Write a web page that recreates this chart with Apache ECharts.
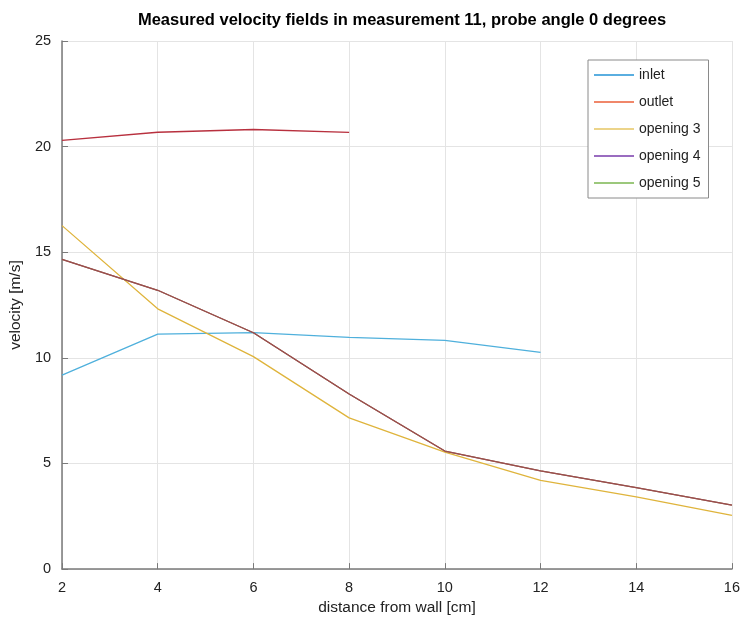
<!DOCTYPE html>
<html>
<head>
<meta charset="utf-8">
<script src="https://cdn.jsdelivr.net/npm/echarts@6/dist/echarts.min.js"></script>
<style>html,body{margin:0;padding:0;background:#fff}#c{width:743px;height:621px}</style>
</head>
<body>
<div id="c"></div>
<script>
const xInlet = [2, 4, 6, 8, 10, 12];
const inlet = [9.18, 11.12, 11.19, 10.97, 10.83, 10.26];
const xOutlet = [2, 4, 6, 8];
const outlet = [20.3, 20.68, 20.81, 20.67];
const xOpening = [2, 4, 6, 8, 10, 12, 14, 16];
const opening3 = [16.26, 12.32, 10.06, 7.16, 5.54, 4.2, 3.42, 2.54];
const opening4 = [14.66, 13.2, 11.19, 8.29, 5.59, 4.65, 3.86, 3.03];
const opening5 = [14.66, 13.2, 11.19, 8.29, 5.59, 4.65, 3.86, 3.03];
const xTicks = [2, 4, 6, 8, 10, 12, 14, 16];
const yTicks = [0, 5, 10, 15, 20, 25];

const names = ['inlet', 'outlet', 'opening 3', 'opening 4', 'opening 5'];
const legendColors = ['#5aaee0', '#f0876a', '#ecd48a', '#9a6cc0', '#9cc87c'];
const plotColors = ['#4fb0dc', '#b8303e', '#dfb43c', '#9c4c4e', '#8f6a4a'];

function pairs(xs, ys) { return xs.map((x, i) => [x, ys[i]]); }

const chart = echarts.init(document.getElementById('c'), null, {renderer: 'canvas'});
const font = 'Liberation Sans, Arial, sans-serif';
chart.setOption({
  animation: false,
  backgroundColor: '#ffffff',
  title: {
    text: 'Measured velocity fields in measurement 11, probe angle 0 degrees',
    left: 397, textAlign: 'center', top: 7,
    textStyle: {fontFamily: font, fontSize: 16.5, fontWeight: 'bold', color: '#000'}
  },
  grid: {left: 60, right: 10, top: 41, bottom: 47},
  legend: {
    orient: 'vertical', left: 588, top: 60,
    padding: [8, 8, 8, 6],
    itemWidth: 40, itemHeight: 2, itemGap: 13,
    icon: 'rect',
    backgroundColor: '#fff', borderColor: '#8a8a8a', borderWidth: 1,
    textStyle: {fontFamily: font, fontSize: 14, color: '#222'},
    data: names.map((n, i) => ({name: n, itemStyle: {color: legendColors[i]}}))
  },
  xAxis: {
    type: 'value', min: 2, max: 16, interval: 2,
    name: 'distance from wall [cm]', nameLocation: 'middle', nameGap: 27,
    nameTextStyle: {fontFamily: font, fontSize: 15.5, color: '#222'},
    axisLine: {show: true, lineStyle: {color: '#7a7a7a', width: 1.5}},
    axisTick: {show: true, inside: true, length: 6, lineStyle: {color: '#7a7a7a'}},
    axisLabel: {fontFamily: font, fontSize: 14.5, color: '#222', margin: 11},
    splitLine: {show: true, lineStyle: {color: '#e4e4e4'}}
  },
  yAxis: {
    type: 'value', min: 0, max: 25, interval: 5,
    name: 'velocity [m/s]', nameLocation: 'middle', nameGap: 32,
    nameTextStyle: {fontFamily: font, fontSize: 15.5, color: '#222'},
    axisLine: {show: true, lineStyle: {color: '#7a7a7a', width: 1.5}},
    axisTick: {show: true, inside: true, length: 6, lineStyle: {color: '#7a7a7a'}},
    axisLabel: {fontFamily: font, fontSize: 14.5, color: '#222', margin: 11},
    splitLine: {show: true, lineStyle: {color: '#e4e4e4'}}
  },
  series: [
    {name: 'inlet', data: pairs(xInlet, inlet)},
    {name: 'outlet', data: pairs(xOutlet, outlet)},
    {name: 'opening 3', data: pairs(xOpening, opening3)},
    {name: 'opening 5', data: pairs(xOpening, opening5)},
    {name: 'opening 4', data: pairs(xOpening, opening4)}
  ].map(s => ({
    type: 'line', name: s.name, data: s.data, showSymbol: false, symbol: 'none',
    lineStyle: {width: 1.3, color: plotColors[names.indexOf(s.name)]},
    itemStyle: {color: plotColors[names.indexOf(s.name)]}
  }))
});
</script>
</body>
</html>
